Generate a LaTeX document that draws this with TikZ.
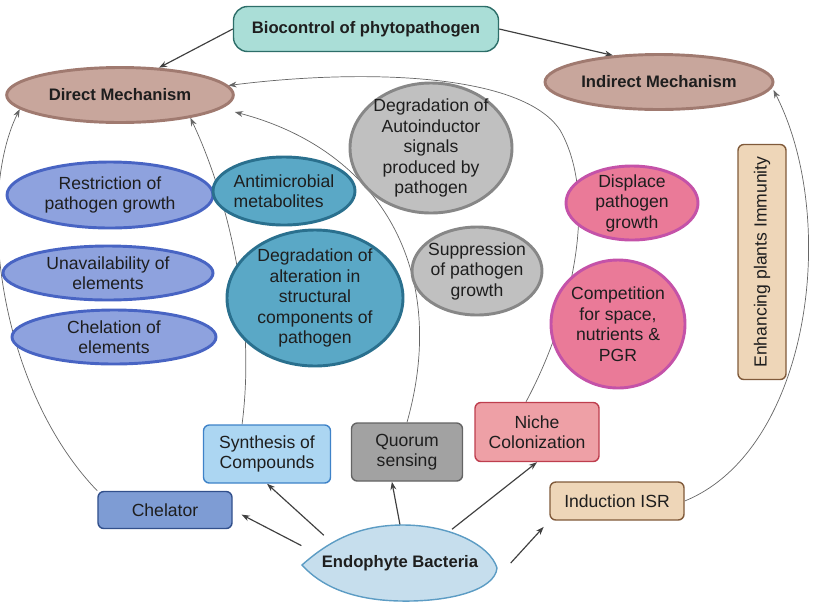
\documentclass[tikz,border=0pt]{standalone}
\usepackage{fontspec}
\setmainfont{Liberation Sans}
\usepackage{tikz}
\usetikzlibrary{shapes.geometric, arrows.meta, calc, backgrounds}
\definecolor{inktext}{RGB}{30, 30, 30}
\definecolor{biofill}{RGB}{170, 222, 215}
\definecolor{bioline}{RGB}{45, 110, 105}
\definecolor{mechfill}{RGB}{200, 166, 156}
\definecolor{mechline}{RGB}{160, 122, 112}
\definecolor{lavfill}{RGB}{142, 162, 222}
\definecolor{lavline}{RGB}{72, 100, 195}
\definecolor{tealfill}{RGB}{90, 168, 198}
\definecolor{tealline}{RGB}{42, 112, 142}
\definecolor{greyfill}{RGB}{192, 192, 192}
\definecolor{greyline}{RGB}{135, 135, 135}
\definecolor{pinkfill}{RGB}{234, 122, 152}
\definecolor{pinkline}{RGB}{196, 82, 168}
\definecolor{tanfill}{RGB}{238, 214, 184}
\definecolor{tanline}{RGB}{128, 90, 58}
\definecolor{skyfill}{RGB}{172, 214, 242}
\definecolor{skyline}{RGB}{62, 130, 200}
\definecolor{slatefill}{RGB}{126, 156, 212}
\definecolor{slateline}{RGB}{50, 80, 140}
\definecolor{stonefill}{RGB}{162, 162, 162}
\definecolor{stoneline}{RGB}{100, 100, 100}
\definecolor{rosefill}{RGB}{238, 160, 166}
\definecolor{roseline}{RGB}{190, 62, 78}
\definecolor{endofill}{RGB}{198, 222, 237}
\definecolor{endoline}{RGB}{92, 156, 196}
\tikzset{
    txt/.style={font=\fontsize{15}{17.5}\selectfont, text=inktext, align=center},
    mech/.style={ellipse, draw=mechline, fill=mechfill, line width=2.5pt,
                 font=\fontsize{14.2}{16}\selectfont\bfseries, text=inktext,
                 inner sep=0pt, minimum width=6.8cm, minimum height=1.65cm},
    oval/.style={ellipse, txt, draw=#1line, fill=#1fill, line width=2.5pt,
                 inner sep=-3pt},
    box/.style={rectangle, rounded corners=5pt, txt, draw=#1line,
                fill=#1fill, line width=1.2pt, inner sep=2pt},
    arr/.style={-{Stealth[length=7pt, width=5pt]}, line width=1pt, black!75},
    curvearr/.style={-{Stealth[length=7pt, width=5pt]}, line width=0.6pt,
                     black!60},
}

\begin{document}
\begin{tikzpicture}[x=0.03cm, y=-0.03cm]
    \useasboundingbox (0,0) rectangle (818,604);

    % Top level
    \node[box=bio, rounded corners=12pt, minimum width=7.95cm,
          minimum height=1.35cm, font=\fontsize{14.2}{16}\selectfont\bfseries]
        (bio) at (366,29) {Biocontrol of phytopathogen};
    \node[mech] (direct) at (120,95) {Direct Mechanism};
    \node[mech, minimum width=6.84cm] (indirect) at (659,82) {Indirect Mechanism};

    % Direct mechanisms
    \node[oval=lav, minimum width=6.18cm, minimum height=1.98cm]
        (restrict) at (110,195) {Restriction of\\pathogen growth};
    \node[oval=lav, minimum width=6.3cm, minimum height=1.62cm]
        (unavail) at (108,273) {Unavailability of\\elements};
    \node[oval=lav, minimum width=6.12cm, minimum height=1.62cm]
        (chelation) at (114,337) {Chelation of\\elements};
    \node[oval=teal, minimum width=4.26cm, minimum height=2.04cm, align=left]
        (antimic) at (284,191) {Antimicrobial\\metabolites};
    \node[oval=teal, minimum width=5.28cm, minimum height=4.08cm]
        (degalter) at (315,298) {Degradation of\\alteration in\\structural\\components of\\pathogen};
    \node[oval=grey, minimum width=4.86cm, minimum height=3.9cm]
        (degauto) at (431,148) {Degradation of\\Autoinductor\\signals\\produced by\\pathogen};
    \node[oval=grey, minimum width=3.9cm, minimum height=2.64cm]
        (suppress) at (477,271) {Suppression\\of pathogen\\growth};

    % Indirect mechanisms
    \node[oval=pink, minimum width=3.96cm, minimum height=2.22cm]
        (displace) at (632,203) {Displace\\pathogen\\growth};
    \node[oval=pink, minimum width=4.02cm, minimum height=3.84cm]
        (compete) at (618,324) {Competition\\for space,\\nutrients \&\\PGR};
    \node[box=tan, rotate=90, minimum width=7.05cm, minimum height=1.44cm]
        (immun) at (762,262) {Enhancing plants Immunity};

    % Bacterial actions
    \node[box=sky, minimum width=3.81cm, minimum height=1.74cm]
        (synth) at (267,454) {Synthesis of\\Compounds};
    \node[box=slate, minimum width=4.02cm, minimum height=1.11cm]
        (chelator) at (165,510) {Chelator};
    \node[box=stone, minimum width=3.33cm, minimum height=1.74cm]
        (quorum) at (407,452) {Quorum\\sensing};
    \node[box=rose, minimum width=3.72cm, minimum height=1.77cm]
        (niche) at (537,432) {Niche\\Colonization};
    \node[box=tan, minimum width=4.02cm, minimum height=1.14cm]
        (isr) at (617,501) {Induction ISR};

    % Endophyte
    \draw[draw=endoline, fill=endofill, line width=1.2pt]
        (302,565) .. controls (330,540) and (360,525) .. (403,525)
        .. controls (450,525) and (490,545) .. (497,568)
        .. controls (495,590) and (450,602) .. (400,601)
        .. controls (350,600) and (320,585) .. cycle;
    \node[ellipse, minimum width=5.85cm, minimum height=2.28cm, inner sep=0pt,
          font=\fontsize{14.2}{16}\selectfont\bfseries, text=inktext]
        (endo) at (400,563) {Endophyte Bacteria};

    \begin{pgfonlayer}{background}
        % From biocontrol
        \draw[arr] (bio.west) -- (direct.35);
        \draw[arr] (bio.east) -- (indirect.150);

        % From endophyte
        \draw[arr, shorten >=0.3cm] (endo.170) -- (chelator.east);
        \draw[arr] (endo.160) -- (synth.south);
        \draw[arr] (endo.north) -- (quorum.243);
        \draw[arr] (endo.33) -- (niche.south);
        \draw[arr, shorten >=0.25cm] (endo.east) -- (isr.south west);

        % Long links up to the mechanisms
        \draw[curvearr] (chelator.north west) .. controls (0,390) and (-25,200) .. (direct.188);
        \draw[curvearr] (synth.130) .. controls (258,300) and (220,180) .. (direct.342);
        \draw[curvearr] (quorum.north) .. controls (450,270) and (380,150)
            .. ($(direct.east)+(0,17)$);
        \draw[curvearr] (niche.110) .. controls (570,320) and (600,200) .. (560,130)
            .. controls (520,70) and (350,70) .. (direct.5);
        \draw[curvearr] (isr.east) .. controls (810,450) and (840,220)
            .. ($(indirect.east)+(-1,8)$);
    \end{pgfonlayer}
\end{tikzpicture}
\end{document}
